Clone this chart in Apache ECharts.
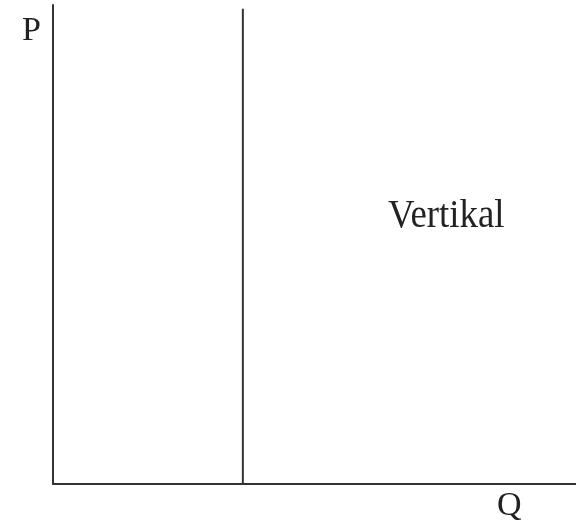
<!DOCTYPE html>
<html>
<head>
<meta charset="utf-8">
<script src="https://cdn.jsdelivr.net/npm/echarts@6/dist/echarts.min.js"></script>
<style>html,body{margin:0;padding:0;background:#fff;}#c{width:576px;height:531px;}</style>
</head>
<body>
<div id="c"></div>
<script>
const supplyQ = 36.3;
const supplyLine = [[supplyQ, 0], [supplyQ, 99.2]];
const axisNames = { x: 'Q', y: 'P' };
const curveLabel = 'Vertikal';

const chart = echarts.init(document.getElementById('c'), null, { renderer: 'canvas' });
const serif = '"Liberation Serif", "DejaVu Serif", serif';
chart.setOption({
  animation: false,
  grid: { left: 53, right: 0, top: 5, bottom: 47 },
  xAxis: {
    type: 'value', min: 0, max: 100,
    axisLine: { show: true, lineStyle: { color: '#333', width: 2 } },
    axisTick: { show: false }, axisLabel: { show: false }, splitLine: { show: false }
  },
  yAxis: {
    type: 'value', min: 0, max: 100,
    axisLine: { show: true, lineStyle: { color: '#333', width: 2 } },
    axisTick: { show: false }, axisLabel: { show: false }, splitLine: { show: false }
  },
  series: [{
    type: 'line', data: supplyLine, symbol: 'none',
    lineStyle: { color: '#333', width: 2 }
  }],
  graphic: [
    { type: 'text', left: 22, top: 14, style: { text: axisNames.y, font: '34px ' + serif, fill: '#222' } },
    { type: 'text', left: 497, top: 489, style: { text: axisNames.x, font: '34px ' + serif, fill: '#222' } },
    { type: 'text', x: 388, y: 196, scaleX: 0.92, style: { text: curveLabel, font: '40px ' + serif, fill: '#222' } }
  ]
});
</script>
</body>
</html>
